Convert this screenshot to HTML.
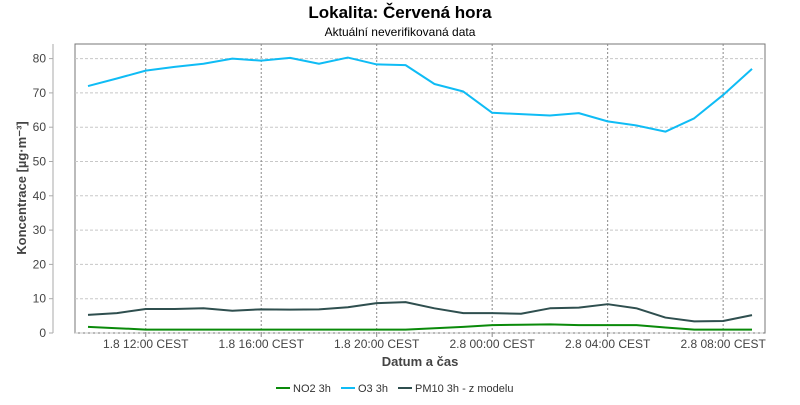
<!DOCTYPE html>
<html><head><meta charset="utf-8"><style>
body{margin:0;background:#fff;font-family:"Liberation Sans",sans-serif}
svg text{font-family:"Liberation Sans",sans-serif}
</style></head><body>
<svg id="c" width="800" height="400" xmlns="http://www.w3.org/2000/svg">
<text x="400" y="18" text-anchor="middle" font-size="17" font-weight="bold" fill="#000">Lokalita: Červená hora</text>
<text x="400" y="36" text-anchor="middle" font-size="12" fill="#000">Aktuální neverifikovaná data</text>
<rect x="75" y="44" width="690" height="289" fill="#fff" stroke="#777"/>
<g id="grid"></g>
<g id="series"></g>
<text transform="translate(26,188) rotate(-90)" text-anchor="middle" font-size="13" font-weight="bold" fill="#444">Koncentrace [µg·m⁻³]</text>
<text x="420" y="366" text-anchor="middle" font-size="13" font-weight="bold" fill="#444">Datum a čas</text>
<g id="legend"></g>
</svg>
<script>
const hours=["10","11","12","13","14","15","16","17","18","19","20","21","22","23","00","01","02","03","04","05","06","07","08","09"];
const o3=[72,74.2,76.5,77.6,78.5,80,79.4,80.2,78.5,80.3,78.3,78.1,72.6,70.4,64.2,63.8,63.4,64.1,61.7,60.5,58.7,62.6,69.4,77];
const pm10=[5.3,5.8,7.0,7.0,7.2,6.5,6.9,6.8,6.9,7.5,8.7,9.0,7.2,5.8,5.8,5.6,7.2,7.4,8.4,7.2,4.5,3.4,3.5,5.2];
const no2=[1.8,1.4,1.0,1.0,1.0,1.0,1.0,1.0,1.0,1.0,1.0,1.0,1.4,1.8,2.3,2.4,2.5,2.3,2.3,2.3,1.6,1.0,1.0,1.0];
const yTicks=[0,10,20,30,40,50,60,70,80];
const xTickIdx=[2,6,10,14,18,22];
const xTickLabels=["1.8 12:00 CEST","1.8 16:00 CEST","1.8 20:00 CEST","2.8 00:00 CEST","2.8 04:00 CEST","2.8 08:00 CEST"];
const NS="http://www.w3.org/2000/svg";
const X=i=>88+i*28.87;
const Y=v=>333-v*3.43;
function mk(tag,attrs,parent){const e=document.createElementNS(NS,tag);for(const k in attrs)e.setAttribute(k,attrs[k]);parent.appendChild(e);return e;}
const grid=document.getElementById('grid');
mk('line',{x1:53,x2:53,y1:44,y2:333,stroke:'#aaa'},grid);
yTicks.forEach(t=>{
 const l=mk('line',{x1:75,x2:765,y1:Y(t),y2:Y(t),stroke:'#c8c8c8','stroke-dasharray':'3,2'},grid);
 
 
 mk('line',{x1:49,x2:53,y1:Y(t),y2:Y(t),stroke:'#aaa'},grid);
 const tx=mk('text',{x:46,y:Y(t)+4,'text-anchor':'end','font-size':12,fill:'#444'},grid);
 tx.textContent=t;
 
 
});
xTickIdx.forEach((idx,k)=>{
 const l=mk('line',{x1:X(idx),x2:X(idx),y1:44,y2:333,stroke:'#888','stroke-dasharray':'2,2'},grid);
 
 
 mk('line',{x1:X(idx),x2:X(idx),y1:333,y2:337,stroke:'#888'},grid);
 const tx=mk('text',{x:X(idx),y:348,'text-anchor':'middle','font-size':12,fill:'#444'},grid);
 tx.textContent=xTickLabels[k];
 
 
});
const ser=document.getElementById('series');
[[no2,'#0a8a0a','line-no2'],[o3,'#0fbcf5','line-o3'],[pm10,'#2f4f4f','line-pm10']].forEach(([d,c,n])=>{
 const p=mk('polyline',{points:d.map((v,i)=>X(i)+','+Y(v)).join(' '),fill:'none',stroke:c,'stroke-width':2,'stroke-linejoin':'round'},ser);
 
 
});
const leg=document.getElementById('legend');
[['NO2 3h','#0a8a0a',276,'legend-no2'],['O3 3h','#0fbcf5',341,'legend-o3'],['PM10 3h - z modelu','#2f4f4f',398,'legend-pm10']].forEach(([t,c,x,n])=>{
 const g=mk('g',{},leg);
 
 
 mk('line',{x1:x,x2:x+14,y1:388,y2:388,stroke:c,'stroke-width':2},g);
 const tx=mk('text',{x:x+17,y:392,'font-size':11,fill:'#333'},g);
 tx.textContent=t;
});
</script>
</body></html>
